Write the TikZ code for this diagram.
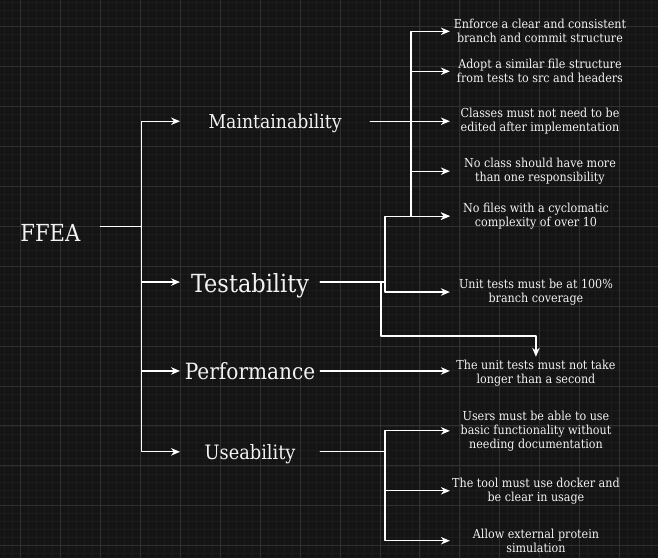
\documentclass[tikz,border=0pt]{standalone}
\usepackage{fontspec}
\setmainfont{DejaVu Serif Condensed}
\usepackage{xcolor}
\usetikzlibrary{arrows.meta,calc,positioning}
\definecolor{bg}{HTML}{141414}
\definecolor{gridmaj}{HTML}{303030}
\definecolor{gridmin}{HTML}{1C1C1C}
\definecolor{ink}{HTML}{F2F2F2}
\tikzset{
  cat/.style={text=ink, inner sep=0pt, minimum width=140, minimum height=30,
    font=\fontsize{#1}{#1}\selectfont, text height={0.9*#1pt}, text depth={0.1*#1pt}},
  leaf/.style={text=ink, align=center, inner sep=0pt, minimum width=172, minimum height=32,
    anchor=west, font=\fontsize{12.4}{14}\selectfont},
  wire/.style={draw=white, line width=1.2pt},
  arr/.style={wire, -{Stealth[length=9pt, width=7.5pt]}},
  every picture/.style={line cap=round, line join=round}
}

\begin{document}
\begin{tikzpicture}[x=1pt, y=-1pt]
  % background and grid
  \fill[bg] (0,0) rectangle (658,558);
  \foreach \i in {0,...,81} \draw[gridmin, line width=0.6pt] ({4+8*\i},0) -- ({4+8*\i},558);
  \foreach \i in {0,...,69} \draw[gridmin, line width=0.6pt] (0,{2+8*\i}) -- (658,{2+8*\i});
  \foreach \i in {0,...,15} \draw[gridmaj, line width=0.8pt] ({20+40*\i},0) -- ({20+40*\i},558);
  \foreach \i in {0,...,13} \draw[gridmaj, line width=0.8pt] (0,{26+40*\i}) -- (658,{26+40*\i});

  \node[cat=23.5, minimum width=100] (ffea) at (50,232) {FFEA};
  \node[cat=19.2, minimum width=190] (maint) at (275,121) {Maintainability};
  \node[cat=25] (test) at (250,282) {Testability};
  \node[cat=22.4] (perf) at (250,371) {Performance};
  \node[cat=19.8] (use) at (250,452) {Useability};

  \node[leaf, minimum width=180] (l1) at (450,31) {Enforce a clear and consistent\\branch and commit structure};
  \node[leaf, minimum width=180] (l2) at (450,71) {Adopt a similar file structure\\from tests to src and headers};
  \node[leaf, minimum width=180] (l3) at (450,121) {Classes must not need to be\\edited after implementation};
  \node[leaf, minimum width=180] (l4) at (450,171) {No class should have more\\than one responsibility};
  \node[leaf] (l5) at (450,216) {No files with a cyclomatic\\complexity of over 10};
  \node[leaf] (l6) at (450,292) {Unit tests must be at 100\%\\branch coverage};
  \node[leaf] (l7) at (450,373) {The unit tests must not take\\longer than a second};
  \node[leaf] (l8) at (450,431) {Users must be able to use\\basic functionality without\\needing documentation};
  \node[leaf] (l9) at (450,491) {The tool must use docker and\\be clear in usage};
  \node[leaf] (l10) at (450,541) {Allow external protein\\simulation};

  \coordinate (tr) at (141,226);
  \coordinate (jm) at (411,121);
  \coordinate (jt) at (385,282);
  \coordinate (jd) at (381,336);
  \coordinate (ju) at (385,452);

  \draw[wire] (ffea.east |- tr) -- (tr);
  \draw[arr] (tr) |- (maint.west);
  \draw[arr] (tr) |- (test.west);
  \draw[arr] (tr) |- (perf.west);
  \draw[arr] (tr) |- (use.west);

  \draw[wire] (maint.east) -- (jm);
  \draw[arr] (jm) |- (l1.west);
  \draw[arr] (jm) |- (l2.west);
  \draw[arr] (jm) -- (l3.west);
  \draw[arr] (jm) |- (l4.west);
  \draw[arr] (jm) |- (l5.west);

  \draw[wire] (test.east) -- (jt);
  \draw[arr] (jt) |- (l5.west);
  \draw[arr] (jt) |- (l6.west);
  \draw[arr] (test.east) -| (jd) -| (l7.north);

  \draw[arr] (perf.east) -- (perf.east -| l7.west);

  \draw[wire] (use.east) -- (ju);
  \draw[arr] (ju) |- (l8.west);
  \draw[arr] (ju) |- (l9.west);
  \draw[arr] (ju) |- (l10.west);
\end{tikzpicture}
\end{document}
